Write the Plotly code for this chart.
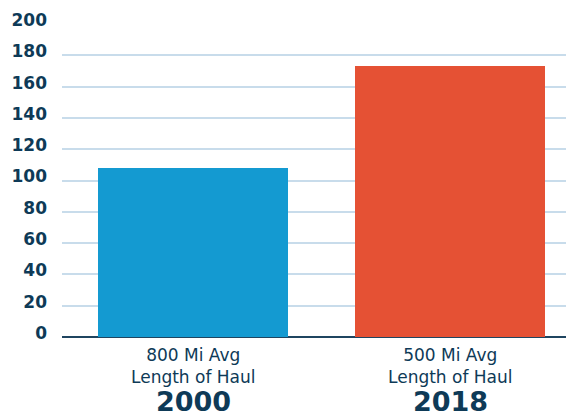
import plotly.graph_objects as go

# Average length of haul comparison
years = ["2000", "2018"]
haul_labels = ["800 Mi Avg<br>Length of Haul", "500 Mi Avg<br>Length of Haul"]
values = [108, 173]
bar_colors = ["#149ad1", "#e55134"]
tick_vals = [0, 20, 40, 60, 80, 100, 120, 140, 160, 180, 200]

navy = "#0e3a57"
font_family = "'DejaVu Sans', sans-serif"

fig = go.Figure()
fig.add_trace(go.Bar(
    x=[0, 1],
    y=values,
    marker=dict(color=bar_colors, line=dict(width=0)),
    width=0.74,
    hoverinfo="skip",
))

# Category text below each bar: description, then a bold year at the bottom edge
for i, (desc, yr) in enumerate(zip(haul_labels, years)):
    fig.add_annotation(
        x=i, y=0, xref="x", yref="y",
        text=desc, showarrow=False,
        yanchor="top", yshift=-6,
        font=dict(family=font_family, size=17, color=navy),
    )
    fig.add_annotation(
        x=i, y=0, xref="x", yref="paper",
        text="<b>" + yr + "</b>", showarrow=False,
        yanchor="bottom", yshift=-82,
        font=dict(family=font_family, size=27, color=navy),
    )

fig.update_layout(
    width=566, height=420,
    margin=dict(l=62, r=0, t=24, b=83),
    plot_bgcolor="white", paper_bgcolor="white",
    showlegend=False,
    bargap=0,
    xaxis=dict(
        range=[-0.51, 1.451],
        showticklabels=False, showgrid=False, zeroline=False,
        showline=False, fixedrange=True,
    ),
    yaxis=dict(
        range=[0, 200],
        tickvals=tick_vals,
        showgrid=True, gridcolor="#c8dceb", gridwidth=2,
        zeroline=True, zerolinecolor="#1f4560", zerolinewidth=2,
        showline=False,
        ticklabelstandoff=14,
        ticklabelshift=-4,
        tickfont=dict(family=font_family, size=17, color=navy, weight="bold"),
        fixedrange=True,
    ),
)

fig.write_html("out.html")
